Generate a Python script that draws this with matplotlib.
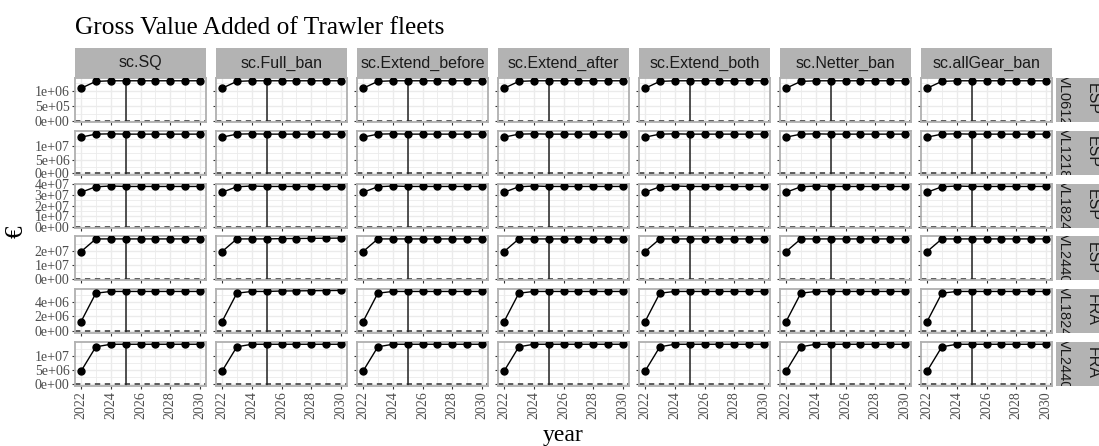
import numpy as np
import matplotlib.pyplot as plt
from matplotlib.ticker import FixedLocator, FuncFormatter

years = [2022, 2023, 2024, 2025, 2026, 2027, 2028, 2029, 2030]
scenarios = ["sc.SQ", "sc.Full_ban", "sc.Extend_before", "sc.Extend_after",
             "sc.Extend_both", "sc.Netter_ban", "sc.allGear_ban"]
fleets = [("ESP", "VL0612"), ("ESP", "VL1218"), ("ESP", "VL1824"),
          ("ESP", "VL2440"), ("FRA", "VL1824"), ("FRA", "VL2440")]

# GVA per fleet (same in most scenarios)
esp_vl0612 = [1.09e6, 1.32e6, 1.34e6, 1.34e6, 1.34e6, 1.34e6, 1.34e6, 1.34e6, 1.34e6]
esp_vl1218 = [1.31e7, 1.42e7, 1.43e7, 1.42e7, 1.42e7, 1.42e7, 1.42e7, 1.42e7, 1.42e7]
esp_vl1824 = [3.25e7, 3.77e7, 3.84e7, 3.80e7, 3.80e7, 3.80e7, 3.80e7, 3.80e7, 3.80e7]
esp_vl2440 = [1.93e7, 2.84e7, 2.84e7, 2.84e7, 2.84e7, 2.84e7, 2.84e7, 2.84e7, 2.84e7]
fra_vl1824 = [1.26e6, 5.20e6, 5.44e6, 5.44e6, 5.44e6, 5.44e6, 5.44e6, 5.44e6, 5.44e6]
fra_vl2440 = [4.47e6, 1.31e7, 1.40e7, 1.40e7, 1.40e7, 1.40e7, 1.40e7, 1.40e7, 1.40e7]
# full ban gives a small rise after 2025 for two fleets
esp_vl2440_full = [1.93e7, 2.84e7, 2.84e7, 2.84e7, 2.86e7, 2.87e7, 2.88e7, 2.89e7, 2.90e7]
fra_vl1824_full = [1.26e6, 5.20e6, 5.44e6, 5.44e6, 5.50e6, 5.52e6, 5.54e6, 5.56e6, 5.58e6]

base = [esp_vl0612, esp_vl1218, esp_vl1824, esp_vl2440, fra_vl1824, fra_vl2440]
full_ban = {3: esp_vl2440_full, 4: fra_vl1824_full}

y_ticks = [[0, 5e5, 1e6], [0, 5e6, 1e7], [0, 1e7, 2e7, 3e7, 4e7],
           [0, 1e7, 2e7], [0, 2e6, 4e6], [0, 5e6, 1e7]]
y_lims = [(-0.033e6, 1.433e6), (-0.047e7, 1.54e7), (-0.085e7, 4.07e7),
          (-0.12e7, 3.02e7), (-0.31e6, 5.75e6), (-0.7e6, 14.8e6)]

W, H = 1099, 446
fig = plt.figure(figsize=(W / 100, H / 100), dpi=100)
serif = "Liberation Serif"
sans = "Liberation Sans"
border = "#b0b0b0"
strip_col = "#b3b3b3"
grid_col = "#ebebeb"


def px(x, y, w, h):
    return [x / W, 1 - (y + h) / H, w / W, h / H]


def sci(v, pos=None):
    return "%.0e" % v


col_x0, col_step, col_w = 75, 141, 131
row_y0, row_step, row_h = 78, 52.8, 44

for r, (country, size) in enumerate(fleets):
    top = row_y0 + r * row_step
    for c, sc in enumerate(scenarios):
        left = col_x0 + c * col_step
        ax = fig.add_axes(px(left, top, col_w, row_h))
        vals = full_ban[r] if (sc == "sc.Full_ban" and r in full_ban) else base[r]
        ax.set_xlim(2021.6, 2030.4)
        ax.set_ylim(*y_lims[r])
        ax.axhline(0, color="#333333", lw=1.1, ls=(0, (3.5, 3)), zorder=2)
        ax.axvline(2025, color="#222222", lw=1.1, zorder=2)
        ax.plot(years, vals, color="black", lw=1.0, zorder=3)
        ax.plot(years, vals, "o", color="black", ms=5, zorder=4)

        yt = y_ticks[r]
        ax.yaxis.set_major_locator(FixedLocator(yt))
        mids = [(a + b) / 2 for a, b in zip(yt[:-1], yt[1:])]
        if yt[-1] + (yt[1] - yt[0]) / 2 < y_lims[r][1]:
            mids.append(yt[-1] + (yt[1] - yt[0]) / 2)
        ax.yaxis.set_minor_locator(FixedLocator(mids))
        ax.xaxis.set_major_locator(FixedLocator([2022, 2024, 2026, 2028, 2030]))
        ax.xaxis.set_minor_locator(FixedLocator([2023, 2025, 2027, 2029]))
        ax.grid(True, which="major", color=grid_col, lw=1.0, zorder=0)
        ax.grid(True, which="minor", color=grid_col, lw=0.6, zorder=0)
        ax.set_axisbelow(True)
        for sp in ax.spines.values():
            sp.set_color(border)
            sp.set_linewidth(1.3)
        ax.tick_params(which="minor", length=0)
        ax.tick_params(which="major", length=2.5, color="#333333", width=0.8,
                       labelsize=10, labelcolor="#4d4d4d", pad=1.5)
        for lab in ax.get_xticklabels() + ax.get_yticklabels():
            lab.set_fontfamily(serif)
        if c == 0:
            ax.yaxis.set_major_formatter(FuncFormatter(sci))
        else:
            ax.tick_params(axis="y", which="major", labelleft=False)
        if r == len(fleets) - 1:
            ax.tick_params(axis="x", labelrotation=90)
        else:
            ax.tick_params(axis="x", which="major", labelbottom=False)

        if r == 0:
            sax = fig.add_axes(px(left, 48, col_w, 30))
            sax.set_facecolor(strip_col)
            sax.set_xticks([])
            sax.set_yticks([])
            for sp in sax.spines.values():
                sp.set_visible(False)
            sax.text(0.5, 0.5, sc, ha="center", va="center", fontsize=11.5,
                     color="#1a1a1a", family=sans, transform=sax.transAxes)

    # right strip, running past the figure edge like the original
    rax = fig.add_axes(px(1056, top, 60, row_h))
    rax.set_facecolor(strip_col)
    rax.set_xticks([])
    rax.set_yticks([])
    for sp in rax.spines.values():
        sp.set_visible(False)
    rax.text(0.60, 0.52, country, rotation=-90, ha="center", va="center",
             fontsize=11.5, color="#1a1a1a", family=sans,
             transform=rax.transAxes, clip_on=True)
    rax.text(0.14, 0.5, size, rotation=-90, ha="center", va="center",
             fontsize=10.5, color="#1a1a1a", family=sans,
             transform=rax.transAxes, clip_on=True)

fig.text(75 / W, 1 - 34 / H, "Gross Value Added of Trawler fleets",
         fontsize=18.3, family=serif, color="black", ha="left", va="baseline")
fig.text(563 / W, 1 - 436 / H, "year", fontsize=17, family=serif,
         ha="center", va="center")
fig.text(17 / W, 1 - 232 / H, "€", fontsize=18, family=serif,
         rotation=90, ha="center", va="center")

fig.savefig("out.png", dpi=100)
